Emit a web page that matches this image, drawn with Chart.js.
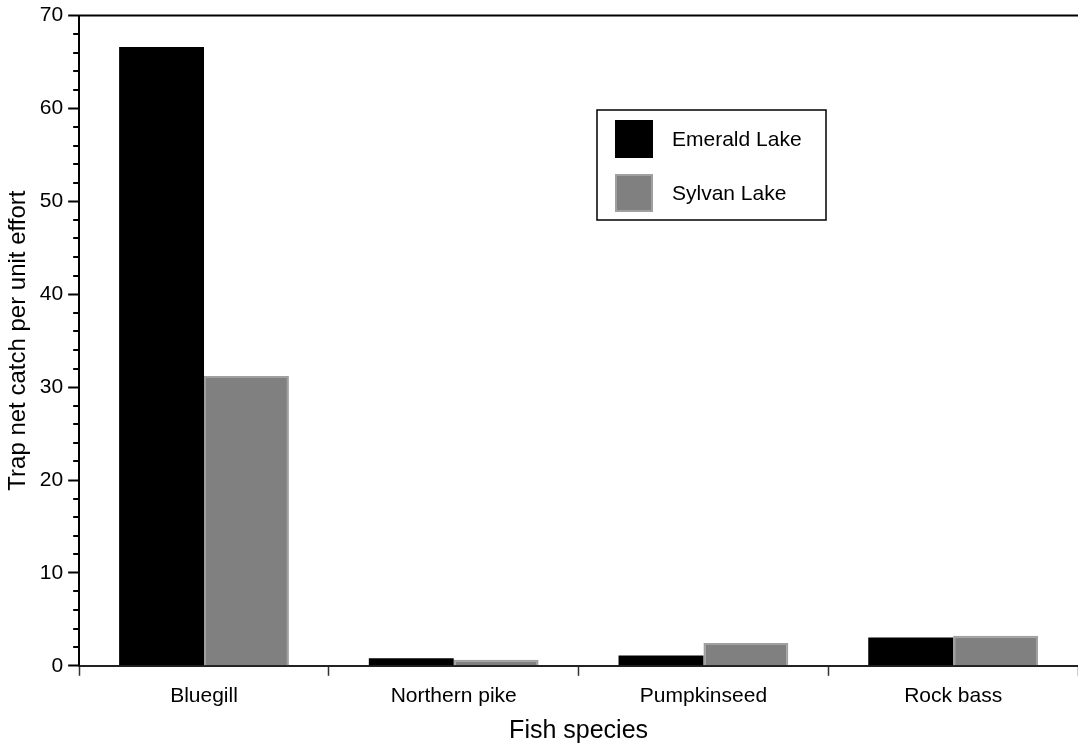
<!DOCTYPE html>
<html>
<head>
<meta charset="utf-8">
<script src="https://cdn.jsdelivr.net/npm/chart.js@4"></script>
<style>
  html, body { margin: 0; padding: 0; background: #fff; }
  #wrap { width: 1078px; height: 744px; }
</style>
</head>
<body>
<div id="wrap"><canvas id="grafico"></canvas></div>
<script>
// datos
var especies = ['Bluegill', 'Northern pike', 'Pumpkinseed', 'Rock bass'];
var emerald = [66.6, 0.82, 1.1, 3.05];
var sylvan = [31.2, 0.65, 2.45, 3.23];
var yTicks = [0, 10, 20, 30, 40, 50, 60, 70];

var fuente = "'Liberation Sans', Arial, sans-serif";

// ticks menores, borde superior y leyenda con recuadro
var extras = {
    id: 'extras',
    afterDraw: function(chart) {
        var ctx = chart.ctx;
        var y = chart.scales.y;
        var area = chart.chartArea;
        ctx.save();
        ctx.strokeStyle = '#000';
        ctx.lineWidth = 2;
        for (var v = 0; v <= 70; v += 2) {
            if (v % 10 === 0) continue;
            var py = Math.round(y.getPixelForValue(v));
            ctx.beginPath();
            ctx.moveTo(area.left - 6, py);
            ctx.lineTo(area.left, py);
            ctx.stroke();
        }
        ctx.beginPath();
        ctx.moveTo(area.left - 1, area.top);
        ctx.lineTo(area.right, area.top);
        ctx.stroke();

        // leyenda
        var bx = 597, by = 110, bw = 229, bh = 110;
        ctx.lineWidth = 1.5;
        ctx.strokeRect(bx, by, bw, bh);
        var items = chart.data.datasets;
        ctx.font = '21px ' + fuente;
        ctx.textBaseline = 'middle';
        ctx.textAlign = 'left';
        for (var i = 0; i < items.length; i++) {
            var sy = by + 10 + i * 54;
            ctx.fillStyle = items[i].backgroundColor;
            ctx.fillRect(bx + 18, sy, 38, 38);
            if (i === 1) {
                ctx.strokeStyle = '#a0a0a0';
                ctx.lineWidth = 2;
                ctx.strokeRect(bx + 19, sy + 1, 36, 36);
            }
            ctx.fillStyle = '#000';
            ctx.fillText(items[i].label, bx + 75, sy + 20);
        }
        ctx.restore();
    }
};

var config = {
    type: 'bar',
    data: {
        labels: especies,
        datasets: [
            {
                label: 'Emerald Lake',
                data: emerald,
                backgroundColor: '#000000',
                borderWidth: 0,
                categoryPercentage: 0.68,
                barPercentage: 1.0
            },
            {
                label: 'Sylvan Lake',
                data: sylvan,
                backgroundColor: '#808080',
                borderColor: '#a0a0a0',
                borderWidth: 2,
                categoryPercentage: 0.68,
                barPercentage: 1.0
            }
        ]
    },
    options: {
        responsive: true,
        maintainAspectRatio: false,
        animation: false,
        layout: { padding: { top: 2, right: 0, left: 4, bottom: 0 } },
        plugins: {
            legend: { display: false },
            tooltip: { enabled: false }
        },
        scales: {
            x: {
                grid: {
                    display: true,
                    offset: true,
                    drawOnChartArea: false,
                    tickLength: 10,
                    tickColor: '#333',
                    tickWidth: 1.5
                },
                border: { color: '#222', width: 2 },
                ticks: {
                    color: '#000',
                    font: { family: fuente, size: 21 },
                    padding: 8
                },
                title: {
                    display: true,
                    text: 'Fish species',
                    color: '#000',
                    font: { family: fuente, size: 25, lineHeight: 1 },
                    padding: { top: 2, bottom: 0 }
                }
            },
            y: {
                min: 0,
                max: 70,
                afterBuildTicks: function(scale) {
                    scale.ticks = yTicks.map(function(v) { return { value: v }; });
                },
                grid: {
                    display: true,
                    drawOnChartArea: false,
                    tickLength: 11,
                    tickColor: '#000',
                    tickWidth: 2
                },
                border: { color: '#000', width: 2 },
                ticks: {
                    color: '#000',
                    font: { family: fuente, size: 21, lineHeight: 1 },
                    padding: 5
                },
                title: {
                    display: true,
                    text: 'Trap net catch per unit effort',
                    color: '#000',
                    font: { family: fuente, size: 24 },
                    padding: { top: 0, bottom: 2 }
                }
            }
        }
    },
    plugins: [extras]
};

var grafico = new Chart(document.getElementById('grafico'), config);
</script>
</body>
</html>
